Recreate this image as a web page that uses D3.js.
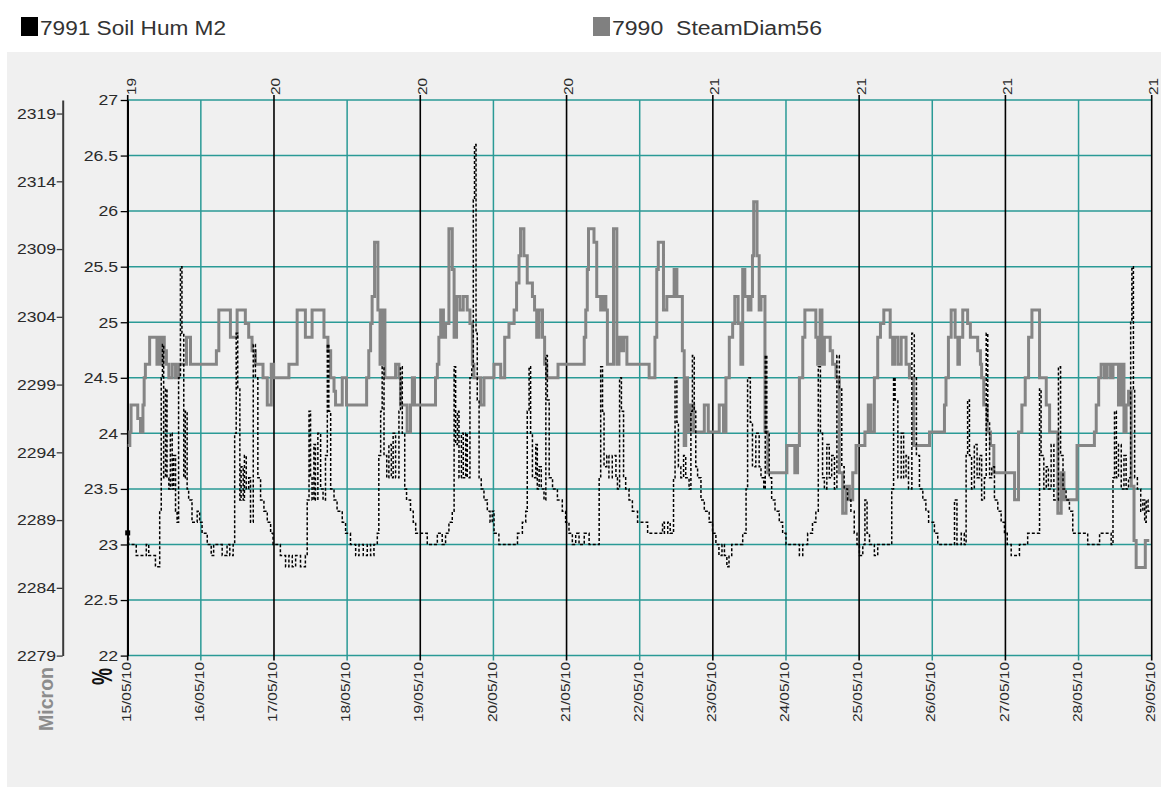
<!DOCTYPE html>
<html>
<head>
<meta charset="utf-8">
<script src="https://cdn.jsdelivr.net/npm/d3@7/dist/d3.min.js"></script>
<style>
  html, body { margin: 0; padding: 0; background: #ffffff; }
  svg { display: block; }
  text { font-family: "Liberation Sans", Arial, sans-serif; }
</style>
</head>
<body>
<svg id="chart" width="1161" height="787"></svg>
<script>
// ---------------- DATA ----------------
const legendItems = ["7991 Soil Hum M2", "7990  SteamDiam56"];
const dateLabels = ["15/05/10","16/05/10","17/05/10","18/05/10","19/05/10","20/05/10","21/05/10",
  "22/05/10","23/05/10","24/05/10","25/05/10","26/05/10","27/05/10","28/05/10","29/05/10"];
const weekLabels = ["19","20","20","20","21","21","21","21"];
const pctTicks = [22, 22.5, 23, 23.5, 24, 24.5, 25, 25.5, 26, 26.5, 27];
const micronTicks = [2279, 2284, 2289, 2294, 2299, 2304, 2309, 2314, 2319];

// Soil humidity (%), [hours since 15/05/10 00:00, value]
const soilHum = [
 [0,23.1],[0.3,23.0],[2.8,22.9],[6.1,23.0],[6.9,22.9],[9.1,22.8],[10.5,23.3],[11.0,24.5],[11.4,24.8],[11.8,23.6],
 [12.4,24.4],[12.9,23.6],[13.5,23.5],[14.0,24.0],[14.6,23.5],[15.1,23.8],[15.7,23.3],[16.2,23.2],[16.7,24.5],[17.3,25.5],
 [17.8,24.9],[18.4,23.6],[18.9,24.2],[19.5,23.5],[20.0,23.4],[21.1,23.2],[22.8,23.3],[23.6,23.2],[24.4,23.1],[26.1,23.0],
 [27.4,22.9],[28.2,23.0],[31.0,22.9],[32.6,23.0],[33.5,22.9],[34.6,23.0],[35.1,24.0],[35.6,24.9],[36.1,24.4],[36.8,23.4],
 [37.2,23.7],[37.9,23.4],[38.3,23.8],[38.9,23.5],[39.7,23.6],[40.3,23.2],[41.2,24.8],[41.9,24.5],[42.7,23.6],[43.6,23.4],
 [44.7,23.3],[45.8,23.2],[46.9,23.1],[47.7,23.0],[50.1,22.9],[51.8,22.8],[52.9,22.9],[54.0,22.8],[55.1,22.9],[56.7,22.8],
 [58.3,22.9],[58.9,23.4],[59.5,24.2],[60.0,23.6],[60.5,23.4],[61.1,23.9],[61.6,23.4],[62.4,24.0],[63.3,23.5],[64.1,23.4],
 [64.9,23.8],[65.5,24.8],[66.0,24.2],[66.6,23.5],[67.7,23.4],[68.7,23.3],[70.4,23.2],[71.5,23.1],[73.1,23.0],[74.8,22.9],
 [75.9,23.0],[77.3,22.9],[78.6,23.0],[79.7,22.9],[80.8,23.0],[81.9,23.1],[82.4,23.8],[83.0,24.2],[83.5,24.6],[84.1,23.8],
 [85.0,23.6],[85.7,23.9],[86.5,23.6],[87.1,24.0],[87.9,23.6],[89.0,24.2],[89.5,24.6],[90.1,24.0],[90.9,23.5],[91.5,23.4],
 [92.8,23.3],[93.7,23.2],[94.5,23.1],[98.3,23.0],[101.6,23.1],[103.2,23.0],[104.3,23.1],[105.4,23.2],[106.5,23.3],[107.1,24.6],
 [107.6,23.9],[108.2,24.2],[108.7,23.6],[109.5,24.0],[110.1,23.6],[110.9,24.0],[111.4,23.6],[112.3,24.5],[112.9,24.6],[113.4,26.1],
 [113.8,26.6],[114.3,24.9],[114.7,24.3],[115.3,23.6],[116.0,23.5],[116.9,23.4],[118.0,23.3],[118.9,23.2],[119.6,23.3],[120.2,23.1],
 [121.8,23.0],[127.9,23.1],[129.5,23.2],[130.6,23.3],[131.1,24.2],[131.7,24.6],[132.2,24.0],[132.8,23.6],[133.9,23.9],[134.4,23.5],
 [135.0,23.7],[135.7,23.5],[136.6,23.4],[137.2,24.7],[137.7,24.3],[138.3,23.6],[139.4,23.5],[141.0,23.4],[142.6,23.3],[143.7,23.2],
 [144.8,23.1],[145.9,23.0],[147.0,23.1],[148.1,23.0],[149.8,23.1],[151.4,23.0],[154.7,23.6],[155.2,24.6],[155.8,24.2],[156.3,23.7],
 [157.2,23.8],[157.9,23.6],[159.0,23.8],[160.2,23.6],[160.7,23.5],[161.4,24.5],[162.0,24.2],[162.7,23.6],[163.4,23.5],[164.5,23.4],
 [165.6,23.3],[167.3,23.2],[169.5,23.2],[170.6,23.1],[174.4,23.1],[175.5,23.2],[176.1,23.1],[177.2,23.2],[178.0,23.1],[179.1,23.6],
 [179.6,24.5],[180.2,24.1],[180.7,23.7],[181.5,23.6],[182.4,23.8],[183.1,23.6],[184.2,23.5],[184.8,24.2],[185.3,24.7],[185.9,24.2],
 [186.4,23.7],[187.0,23.6],[188.1,23.4],[189.2,23.3],[190.8,23.2],[191.9,23.1],[193.0,23.0],[194.0,22.9],[195.0,23.0],[195.8,22.9],
 [196.6,22.8],[197.3,22.9],[198.2,23.0],[201.8,23.1],[202.9,23.5],[203.4,24.5],[204.3,24.1],[205.0,23.7],[206.1,24.0],[207.2,23.7],
 [207.8,23.6],[208.7,23.5],[209.2,24.7],[209.7,24.0],[210.5,23.6],[211.3,23.4],[212.4,23.3],[213.8,23.2],[214.9,23.1],[216.0,23.0],
 [220.4,22.9],[221.5,23.0],[223.1,23.1],[224.7,23.2],[225.8,23.3],[226.6,24.6],[227.3,24.0],[228.0,23.6],[228.6,23.5],[229.4,23.9],
 [230.2,23.6],[231.0,23.8],[231.9,23.5],[232.7,24.7],[233.5,24.4],[234.3,23.7],[235.1,23.5],[236.2,23.4],[237.3,23.3],[238.4,23.1],
 [239.3,23.0],[240.1,22.9],[241.2,23.0],[241.9,23.4],[242.6,23.1],[243.4,23.0],[245.0,22.9],[246.1,23.0],[249.9,23.0],[250.7,23.5],
 [251.3,24.5],[251.8,24.3],[252.7,23.6],[253.8,24.0],[254.6,23.6],[255.4,23.8],[256.2,23.5],[257.3,24.9],[258.1,24.5],[258.8,23.8],
 [259.8,23.5],[260.9,23.4],[261.9,23.3],[262.8,23.2],[264.7,23.1],[265.8,23.0],[271.3,23.4],[272.1,23.0],[273.5,23.1],[274.5,23.0],
 [275.1,23.8],[275.6,24.3],[276.2,23.8],[276.9,23.5],[277.8,23.9],[278.7,23.6],[279.5,23.8],[280.2,23.4],[281.1,23.6],[281.7,24.9],
 [282.2,24.1],[282.8,23.6],[283.5,23.7],[284.4,23.4],[285.5,23.3],[286.6,23.2],[287.7,23.1],[288.6,23.0],[289.9,22.9],[292.6,23.0],
 [295.3,23.1],[299.2,24.4],[299.7,23.8],[300.6,23.5],[301.4,23.7],[302.1,23.5],[303.0,23.9],[303.9,23.4],[305.4,24.6],[306.1,23.8],
 [306.9,23.5],[307.9,23.4],[309.0,23.3],[310.1,23.1],[315.0,23.0],[317.2,23.0],[318.9,23.1],[322.7,23.0],[323.3,23.6],[323.8,24.2],
 [324.4,23.6],[325.1,23.9],[326.0,23.5],[326.9,23.8],[327.6,23.5],[328.4,23.6],[329.1,25.0],[329.5,25.5],[330.0,24.4],[330.4,23.6],
 [331.3,23.5],[332.4,23.3],[333.1,23.4],[333.7,23.2],[334.2,23.4],[334.8,23.3],[335.6,23.3]
];

// Stem diameter (micron), [hours since 15/05/10 00:00, value]
const steamDiam = [
 [0,2294.5],[0.7,2295.5],[1.1,2297.5],[3.3,2296.5],[4.2,2295.5],[5.0,2297.5],[5.4,2299.5],[5.8,2300.5],[7.2,2302.5],[9.6,2300.5],
 [10.5,2302.5],[11.2,2300.5],[11.6,2302.5],[12.0,2301.5],[12.7,2300.5],[13.5,2299.5],[14.6,2300.5],[15.7,2299.5],[16.7,2300.5],[19.3,2302.5],
 [20.6,2300.5],[29.1,2301.5],[29.9,2304.5],[33.7,2302.5],[35.9,2304.5],[38.6,2303.5],[39.7,2302.5],[40.8,2301.5],[41.9,2300.5],[44.4,2299.5],
 [45.8,2297.5],[47.1,2300.5],[47.9,2299.5],[52.9,2300.5],[55.6,2304.5],[58.3,2302.5],[60.5,2304.5],[64.4,2302.5],[65.7,2301.5],[66.6,2299.5],
 [67.7,2298.5],[68.2,2297.5],[70.4,2299.5],[71.8,2297.5],[78.4,2299.5],[79.1,2301.5],[79.7,2303.5],[80.2,2305.5],[81.0,2309.5],[82.1,2304.5],
 [82.8,2300.5],[83.6,2304.5],[84.4,2299.5],[87.9,2300.5],[89.0,2299.5],[89.5,2297.5],[91.7,2295.5],[92.8,2297.5],[93.4,2299.5],[94.1,2297.5],
 [101.0,2299.5],[101.6,2300.5],[102.1,2302.5],[102.7,2304.5],[103.6,2302.5],[104.3,2303.5],[105.4,2310.5],[106.5,2307.5],[107.1,2302.5],[107.9,2305.5],
 [109.0,2304.5],[110.1,2305.5],[111.4,2304.5],[112.3,2303.5],[113.1,2300.5],[113.6,2299.5],[115.8,2297.5],[116.9,2299.5],[120.2,2300.5],[122.4,2299.5],
 [123.7,2302.5],[125.1,2303.5],[126.8,2304.5],[127.6,2306.5],[128.4,2308.5],[128.9,2310.5],[130.0,2308.5],[131.1,2306.5],[132.8,2305.5],[133.5,2304.5],
 [134.2,2302.5],[135.0,2304.5],[136.1,2302.5],[136.8,2300.5],[137.5,2299.5],[141.2,2300.5],[149.8,2302.5],[150.3,2304.5],[150.8,2307.5],[151.2,2310.5],
 [153.0,2309.5],[153.9,2305.5],[155.2,2304.5],[156.1,2305.5],[156.9,2304.5],[157.4,2300.5],[159.4,2310.5],[160.5,2300.5],[161.2,2302.5],[162.0,2301.5],
 [162.7,2302.5],[163.8,2300.5],[171.1,2299.5],[173.0,2302.5],[173.6,2307.5],[174.1,2309.5],[175.8,2304.5],[176.9,2305.5],[179.3,2307.5],[180.2,2305.5],
 [182.0,2301.5],[182.6,2294.5],[183.1,2299.5],[183.7,2295.5],[184.6,2297.5],[185.7,2295.5],[189.2,2297.5],[190.5,2295.5],[194.1,2297.5],[195.5,2295.5],
 [196.3,2299.5],[197.4,2302.5],[198.5,2303.5],[199.2,2305.5],[200.3,2303.5],[201.2,2300.5],[201.8,2307.5],[202.5,2305.5],[203.6,2304.5],[204.5,2305.5],
 [205.0,2308.5],[205.4,2312.5],[206.5,2308.5],[207.2,2304.5],[207.8,2305.5],[209.1,2295.5],[210.0,2292.5],[216.3,2294.5],[218.9,2292.5],[219.8,2294.5],
 [220.4,2299.5],[221.5,2302.5],[222.2,2304.5],[225.8,2302.5],[226.4,2300.5],[227.2,2304.5],[227.8,2300.5],[228.6,2302.5],[230.5,2301.5],[231.3,2300.5],
 [232.4,2299.5],[233.5,2292.5],[234.6,2289.5],[235.7,2291.5],[236.8,2290.5],[237.9,2292.5],[239.0,2294.5],[241.9,2295.5],[243.0,2297.5],[243.9,2295.5],
 [245.0,2299.5],[246.1,2302.5],[247.0,2303.5],[248.1,2304.5],[250.2,2302.5],[251.0,2300.5],[251.6,2302.5],[252.7,2300.5],[253.8,2302.5],[255.4,2300.5],
 [256.5,2299.5],[257.9,2294.5],[263.1,2295.5],[268.0,2297.5],[268.5,2299.5],[269.3,2302.5],[270.2,2304.5],[271.5,2302.5],[272.4,2300.5],[272.9,2302.5],
 [274.0,2304.5],[275.6,2303.5],[276.5,2302.5],[278.9,2301.5],[279.8,2300.5],[280.2,2299.5],[280.9,2297.5],[282.0,2295.5],[283.1,2294.5],[284.2,2292.5],
 [291.0,2290.5],[292.3,2295.5],[293.4,2297.5],[294.5,2299.5],[295.6,2302.5],[296.7,2304.5],[299.2,2299.5],[301.4,2297.5],[302.5,2295.5],[305.2,2289.5],
 [306.3,2292.5],[307.2,2290.5],[311.5,2294.5],[317.2,2295.5],[317.8,2297.5],[318.6,2299.5],[319.4,2300.5],[320.5,2299.5],[321.4,2300.5],[322.5,2299.5],
 [323.3,2300.5],[325.1,2297.5],[326.0,2300.5],[326.9,2295.5],[327.6,2297.5],[328.4,2298.5],[329.3,2291.5],[330.2,2287.5],[330.9,2285.5],[333.9,2287.5],
 [335.2,2287.5]
];

// ---------------- CHART ----------------
const svg = d3.select("#chart");
const TEAL = "#2a9a96";
const TEXT = "#2a2a2a";
const pL = 127.7, pR = 1151.7, pT = 100, pB = 655.6;

const x = d3.scaleLinear().domain([0, 336]).range([pL, pR]);
const yPct = d3.scaleLinear().domain([22, 27]).range([pB, pT]);
const yMic = d3.scaleLinear().domain([2279, 2320]).range([pB, pT]);

// panel
svg.append("rect").attr("x", 7).attr("y", 52).attr("width", 1154).attr("height", 735).attr("fill", "#f0f0f0");

// legend
const legendX = [21, 593];
const legendColor = ["#000000", "#808080"];
const legendLen = [186, 210];
legendItems.forEach((t, i) => {
  svg.append("rect").attr("x", legendX[i]).attr("y", 17).attr("width", 17).attr("height", 19).attr("fill", legendColor[i]);
  svg.append("text").attr("x", legendX[i] + 19).attr("y", 34.5)
    .attr("font-size", 20).attr("fill", "#333")
    .style("white-space", "pre")
    .attr("textLength", legendLen[i]).attr("lengthAdjust", "spacingAndGlyphs")
    .text(t);
});

// horizontal grid
svg.append("g").selectAll("line").data(pctTicks).join("line")
  .attr("x1", pL).attr("x2", pR)
  .attr("y1", d => yPct(d)).attr("y2", d => yPct(d))
  .attr("stroke", TEAL).attr("stroke-width", 1.5);

// vertical day lines
const days = dateLabels.map((d, i) => i * 24);
const vg = svg.append("g");
vg.selectAll("line.teal").data(days.filter((d, i) => i % 2 === 1)).join("line")
  .attr("class", "teal")
  .attr("x1", d => x(d)).attr("x2", d => x(d))
  .attr("y1", pT).attr("y2", pB + 5)
  .attr("stroke", TEAL).attr("stroke-width", 1.5);
vg.selectAll("line.blk").data(days.filter((d, i) => i % 2 === 0)).join("line")
  .attr("class", "blk")
  .attr("x1", d => x(d)).attr("x2", d => x(d))
  .attr("y1", pT - 5).attr("y2", pB + 5)
  .attr("stroke", "#000").attr("stroke-width", 1.6);

// % axis
const pctAxis = svg.append("g").attr("transform", `translate(${pL},0)`)
  .call(d3.axisLeft(yPct).tickValues(pctTicks).tickSize(7).tickSizeOuter(0).tickFormat(d3.format("")));
pctAxis.select(".domain").attr("stroke", "#000").attr("stroke-width", 1.6);
pctAxis.selectAll(".tick line").attr("stroke", "#000").attr("stroke-width", 1.3);
pctAxis.selectAll(".tick text")
  .attr("x", -9.6 / 1.18).attr("transform", "scale(1.18,1)")
  .attr("font-size", 15).attr("fill", TEXT).attr("font-family", "Liberation Sans, Arial, sans-serif");

// micron axis
const micX = 62.7;
const micAxis = svg.append("g").attr("transform", `translate(${micX},0)`)
  .call(d3.axisLeft(yMic).tickValues(micronTicks).tickSize(6).tickSizeOuter(0).tickFormat(d3.format("d")));
micAxis.select(".domain").attr("stroke", "#3a3a3a").attr("stroke-width", 2);
micAxis.selectAll(".tick line").attr("stroke", "#3a3a3a").attr("stroke-width", 1.3);
micAxis.selectAll(".tick text")
  .attr("x", -6.6 / 1.17).attr("transform", "scale(1.17,1)")
  .attr("font-size", 15).attr("fill", TEXT).attr("font-family", "Liberation Sans, Arial, sans-serif");

// date axis labels (bottom)
const dateAxis = svg.append("g").attr("transform", `translate(0,${pB})`)
  .call(d3.axisBottom(x).tickValues(days).tickSize(0).tickFormat((d, i) => dateLabels[i]));
dateAxis.select(".domain").remove();
dateAxis.selectAll(".tick text")
  .attr("x", 0).attr("y", 0).attr("dy", null)
  .attr("text-anchor", "end")
  .attr("transform", "translate(2.7,6.4) rotate(-90) scale(1.19,1)")
  .attr("font-size", 13).attr("fill", TEXT).attr("font-family", "Liberation Sans, Arial, sans-serif");

// week labels (top)
const weekDays = days.filter((d, i) => i % 2 === 0);
const weekAxis = svg.append("g").attr("transform", `translate(0,${pT})`)
  .call(d3.axisTop(x).tickValues(weekDays).tickSize(0).tickFormat((d, i) => weekLabels[i]));
weekAxis.select(".domain").remove();
weekAxis.selectAll(".tick text")
  .attr("x", 0).attr("y", 0).attr("dy", null)
  .attr("text-anchor", "start")
  .attr("transform", (d, i) => `translate(${i === 0 ? 7.4 : 6.0},-5) rotate(-90) scale(1.19,1)`)
  .attr("font-size", 13).attr("fill", TEXT).attr("font-family", "Liberation Sans, Arial, sans-serif");

// axis titles
svg.append("text").attr("transform", "translate(53,667) rotate(-90)")
  .attr("text-anchor", "end").attr("font-size", 19.5).attr("font-weight", "bold").attr("fill", "#8c8c8c")
  .text("Micron");
svg.append("text").attr("transform", "translate(112,668) rotate(-90) scale(0.87,1.3)")
  .attr("text-anchor", "end").attr("font-size", 22).attr("font-weight", "bold").attr("fill", "#111")
  .text("%");

// series
const steamLine = d3.line().x(d => x(d[0])).y(d => yMic(d[1])).curve(d3.curveStepAfter);
const soilLine = d3.line().x(d => x(d[0])).y(d => yPct(d[1])).curve(d3.curveStepAfter);

svg.append("path").datum(steamDiam).attr("d", steamLine)
  .attr("fill", "none").attr("stroke", "#858585").attr("stroke-width", 3).attr("stroke-linejoin", "miter");
svg.append("path").datum(soilHum).attr("d", soilLine)
  .attr("fill", "none").attr("stroke", "#000").attr("stroke-width", 1.5).attr("stroke-dasharray", "3,2");

// start marker of soil humidity series
svg.append("rect").datum(soilHum[0])
  .attr("x", d => x(d[0]) - 2.5).attr("y", d => yPct(d[1]) - 3)
  .attr("width", 5).attr("height", 5).attr("fill", "#000");
</script>
</body>
</html>
